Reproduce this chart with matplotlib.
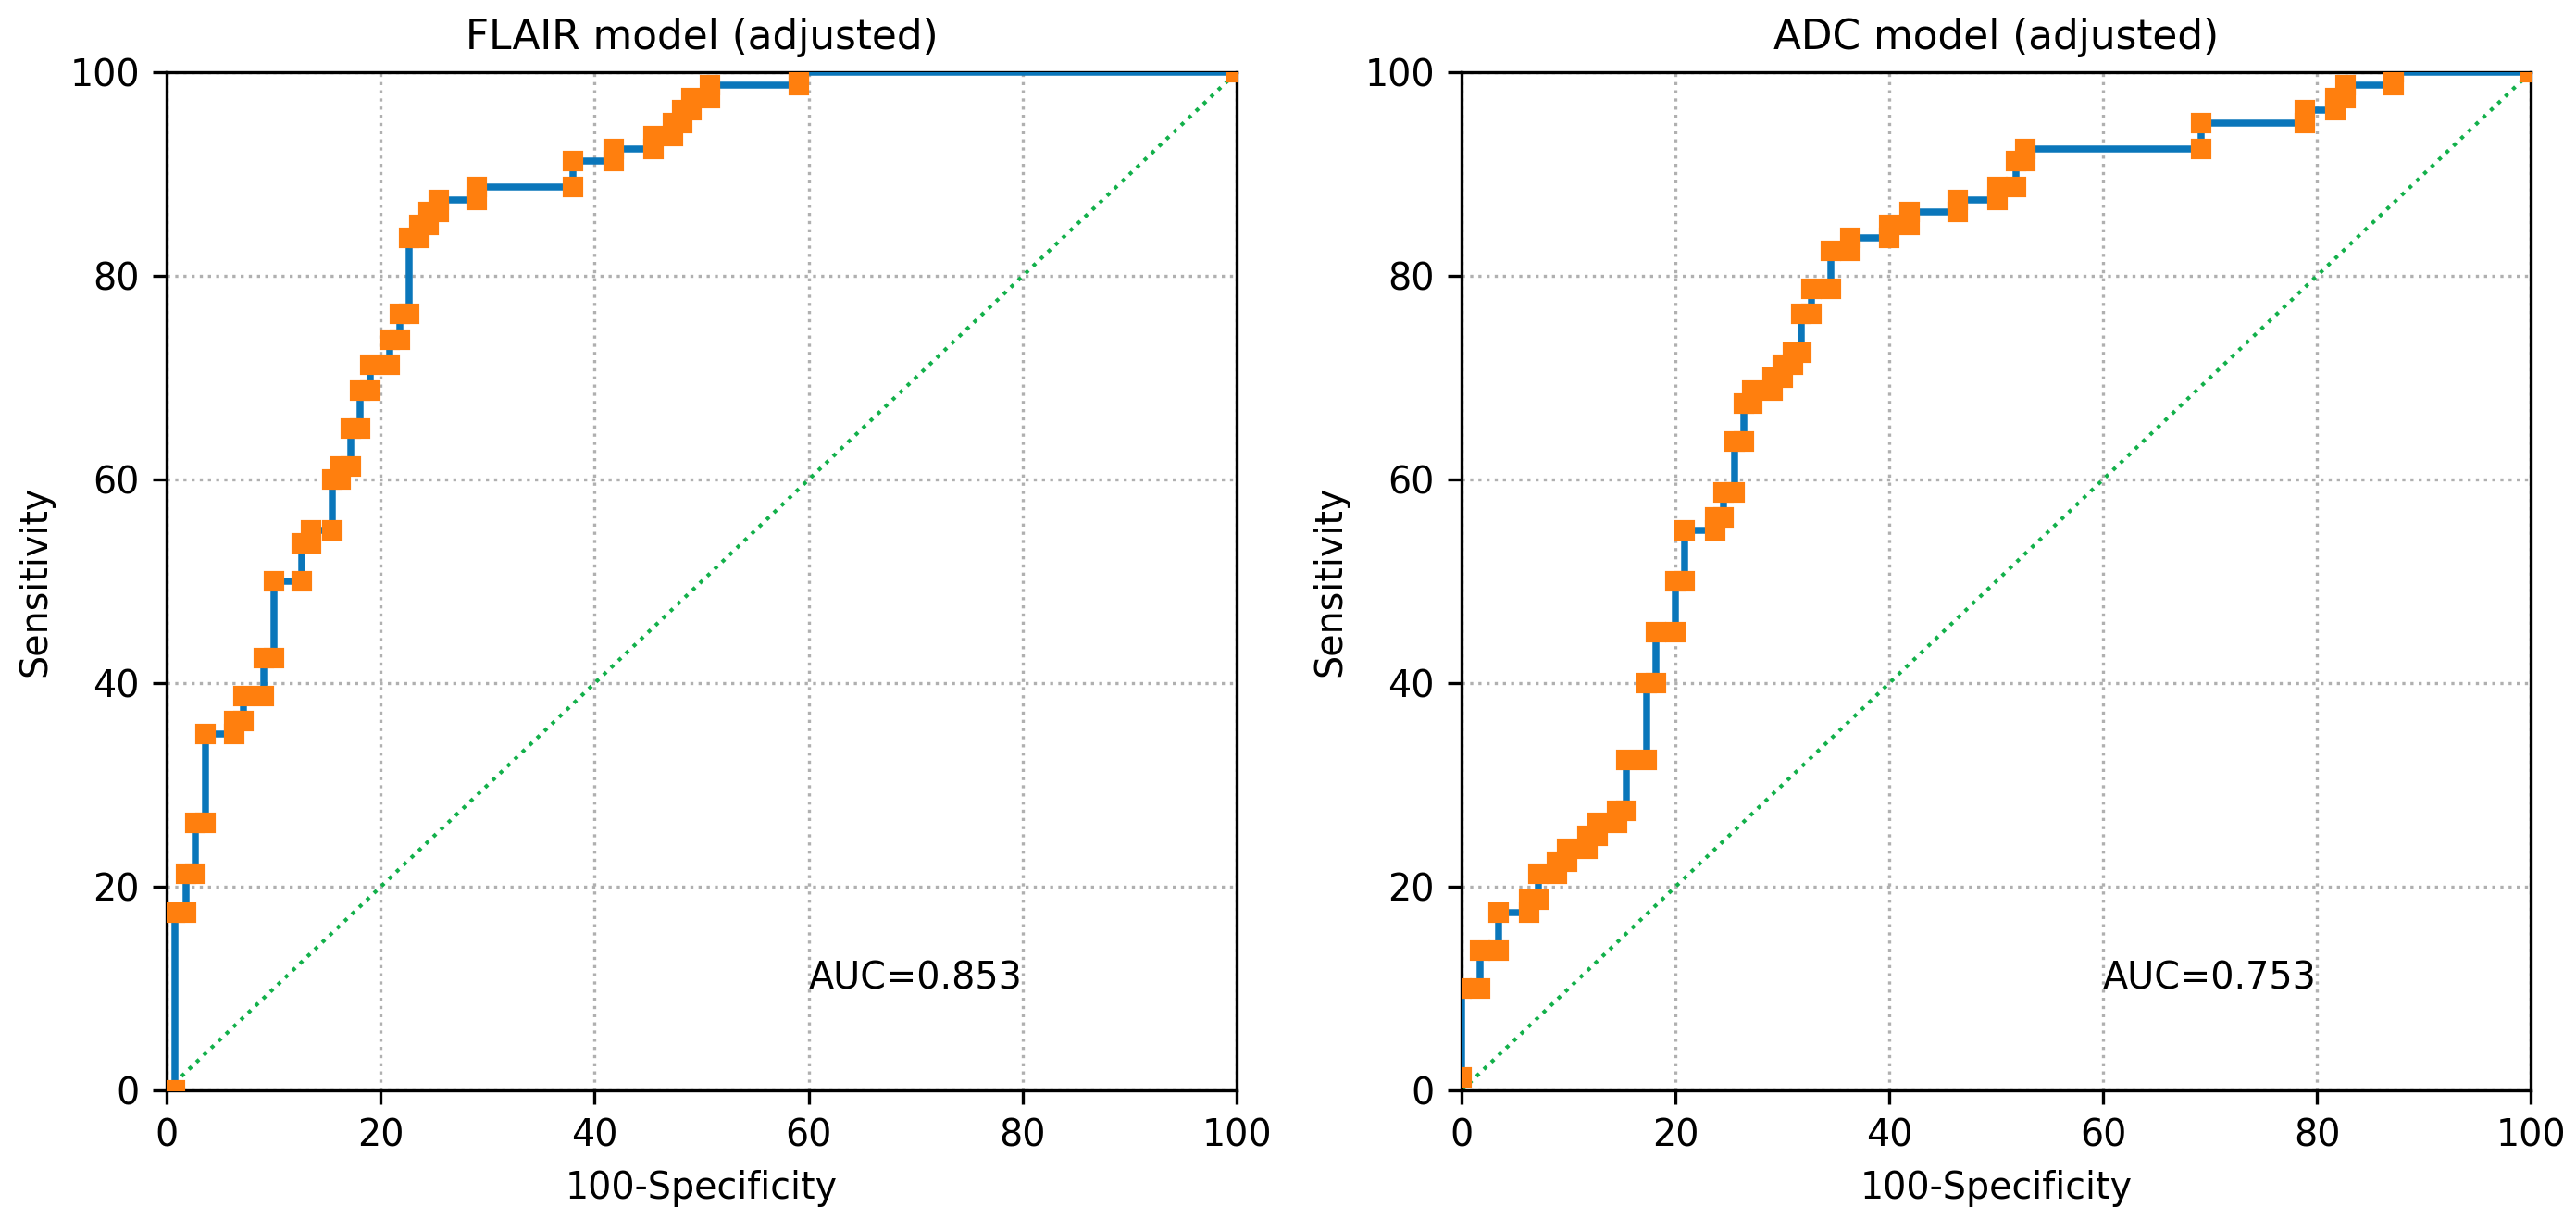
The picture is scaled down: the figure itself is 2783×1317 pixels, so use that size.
import matplotlib
matplotlib.use('Agg')
from matplotlib import pyplot as plt

# ROC vertices (100-specificity, sensitivity)
flair_fpr = [0.8, 0.8, 1.8, 1.8, 2.7, 2.7, 3.6, 3.6, 6.3, 6.3, 7.2, 7.2, 9.1, 9.1,
             10.0, 10.0, 12.6, 12.6, 13.5, 13.5, 15.5, 15.5, 16.3, 16.3, 17.2, 17.2,
             18.1, 18.1, 19.0, 19.0, 20.8, 20.8, 21.8, 21.8, 22.7, 22.7, 23.6, 23.6,
             24.5, 24.5, 25.4, 25.4, 29.0, 29.0, 38.0, 38.0, 41.8, 41.8, 45.5, 45.5,
             47.3, 47.3, 48.2, 48.2, 49.0, 49.0, 50.8, 50.8, 59.1, 59.1, 100.0]
flair_tpr = [0.0, 17.5, 17.5, 21.25, 21.25, 26.25, 26.25, 35.0, 35.0, 36.25, 36.25,
             38.75, 38.75, 42.5, 42.5, 50.0, 50.0, 53.75, 53.75, 55.0, 55.0, 60.0,
             60.0, 61.25, 61.25, 65.0, 65.0, 68.75, 68.75, 71.25, 71.25, 73.75, 73.75,
             76.25, 76.25, 83.75, 83.75, 85.0, 85.0, 86.25, 86.25, 87.5, 87.5, 88.75,
             88.75, 91.25, 91.25, 92.5, 92.5, 93.75, 93.75, 95.0, 95.0, 96.25, 96.25,
             97.5, 97.5, 98.75, 98.75, 100.0, 100.0]

adc_fpr = [0.0, 0.0, 1.7, 1.7, 3.5, 3.5, 6.3, 6.3, 7.2, 7.2, 8.9, 8.9, 9.9, 9.9,
           11.8, 11.8, 12.7, 12.7, 14.5, 14.5, 15.4, 15.4, 17.3, 17.3, 18.2, 18.2,
           20.0, 20.0, 20.9, 20.9, 23.7, 23.7, 24.5, 24.5, 25.5, 25.5, 26.4, 26.4,
           27.2, 27.2, 29.1, 29.1, 30.0, 30.0, 31.0, 31.0, 31.8, 31.8, 32.7, 32.7,
           34.5, 34.5, 36.4, 36.4, 40.0, 40.0, 41.9, 41.9, 46.4, 46.4, 50.1, 50.1,
           51.9, 51.9, 52.7, 52.7, 69.2, 69.2, 78.9, 78.9, 81.7, 81.7, 82.7, 82.7,
           87.2, 87.2, 100.0]
adc_tpr = [1.25, 10.0, 10.0, 13.75, 13.75, 17.5, 17.5, 18.75, 18.75, 21.25, 21.25,
           22.5, 22.5, 23.75, 23.75, 25.0, 25.0, 26.25, 26.25, 27.5, 27.5, 32.5,
           32.5, 40.0, 40.0, 45.0, 45.0, 50.0, 50.0, 55.0, 55.0, 56.25, 56.25,
           58.75, 58.75, 63.75, 63.75, 67.5, 67.5, 68.75, 68.75, 70.0, 70.0, 71.25,
           71.25, 72.5, 72.5, 76.25, 76.25, 78.75, 78.75, 82.5, 82.5, 83.75, 83.75,
           85.0, 85.0, 86.25, 86.25, 87.5, 87.5, 88.75, 88.75, 91.25, 91.25, 92.5,
           92.5, 95.0, 95.0, 96.25, 96.25, 97.5, 97.5, 98.75, 98.75, 100.0, 100.0]

titles = ['FLAIR model (adjusted)', 'ADC model (adjusted)']
auc_labels = ['AUC=0.853', 'AUC=0.753']
ticks = [0, 20, 40, 60, 80, 100]

fig = plt.figure(figsize=(2783 / 300, 1317 / 300), dpi=300)
ax1 = fig.add_axes([0.0647, 0.1055, 0.4154, 0.8352])
ax2 = fig.add_axes([0.5674, 0.1055, 0.4150, 0.8352])

curves = [(flair_fpr, flair_tpr), (adc_fpr, adc_tpr)]
for ax, (fpr, tpr), title, auc in zip([ax1, ax2], curves, titles, auc_labels):
    ax.plot([0, 100], [0, 100], linestyle=':', color='#12b04a', lw=1.0, zorder=2)
    ax.plot(fpr, tpr, color='#0a76ba', lw=1.8, marker='s', ms=4.2,
            mfc='#ff7f0e', mec='#ff7f0e', zorder=3)
    ax.set_xlim(0, 100)
    ax.set_ylim(0, 100)
    ax.set_xticks(ticks)
    ax.set_yticks(ticks)
    ax.grid(True, linestyle=':', color='#b0b0b0', lw=0.8)
    ax.tick_params(labelsize=9.5)
    ax.set_xlabel('100-Specificity', fontsize=9.5)
    ax.set_ylabel('Sensitivity', fontsize=9.5)
    ax.set_title(title, fontsize=10.5)
    ax.text(60, 10, auc, fontsize=9.5)

plt.savefig('out.png', dpi=300)
